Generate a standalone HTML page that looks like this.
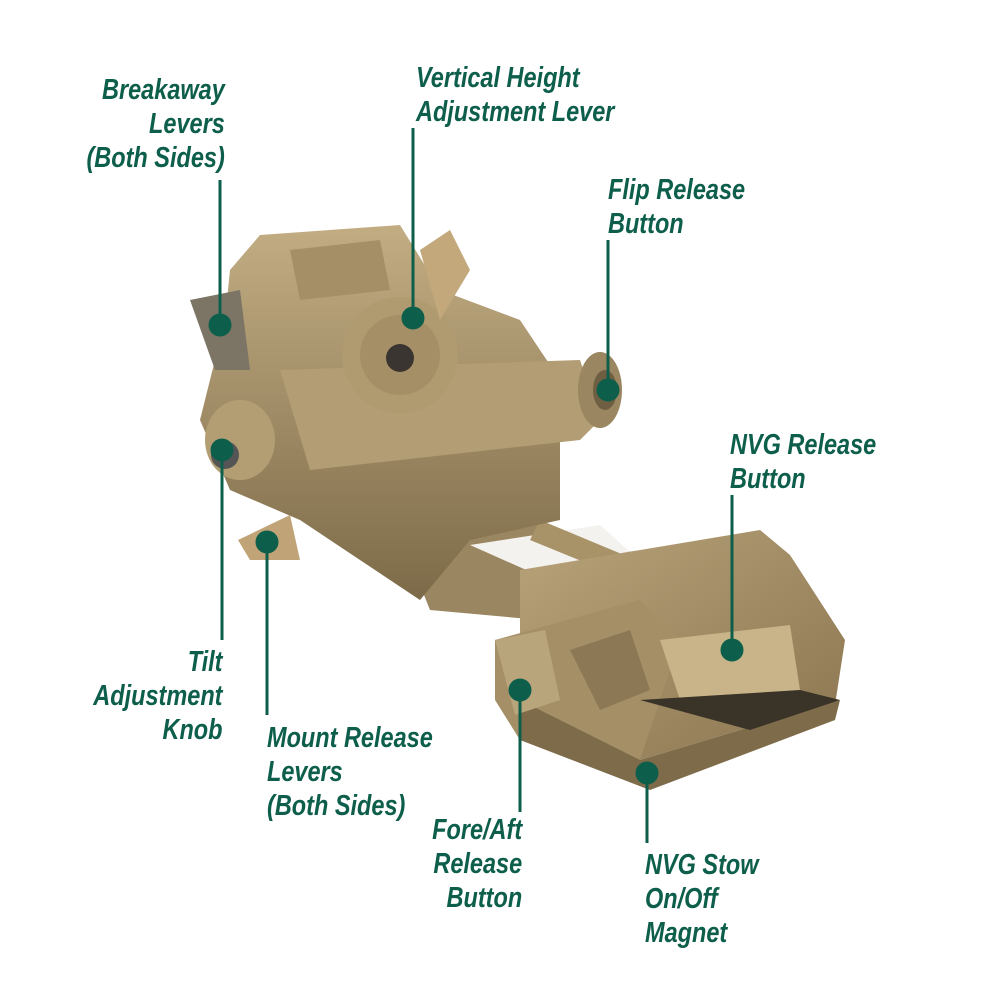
<!DOCTYPE html>
<html><head><meta charset="utf-8"><style>
html,body{margin:0;padding:0;background:#fff}
#c{position:relative;width:1000px;height:1000px;overflow:hidden}
.t{position:absolute;font-family:"Liberation Sans",sans-serif;font-weight:bold;font-style:italic;font-size:29px;line-height:34px;color:#0d5e4b;white-space:nowrap;transform:scaleX(0.81);transform-origin:left top}
.r{text-align:right;transform-origin:right top}
</style></head><body><div id="c">
<svg width="1000" height="1000" style="position:absolute;left:0;top:0">
<defs>
<linearGradient id="g1" x1="0" y1="0" x2="1" y2="1"><stop offset="0" stop-color="#b8a37a"/><stop offset="1" stop-color="#8a7550"/></linearGradient>
<linearGradient id="g2" x1="0" y1="0" x2="0" y2="1"><stop offset="0" stop-color="#c2ad83"/><stop offset="1" stop-color="#7d6a48"/></linearGradient>
</defs>
<polygon points="410,560 520,520 660,560 660,600 540,620 430,610" fill="#9a8660"/>
<polygon points="470,545 600,525 650,570 560,585" fill="#f4f2ee"/>
<polygon points="540,520 660,570 640,585 530,540" fill="#a89268"/>
<polygon points="520,570 760,530 790,555 845,640 835,705 740,730 640,760 520,700" fill="url(#g1)"/>
<polygon points="495,640 640,600 680,640 650,730 640,760 520,740 495,700" fill="#a48f67"/>
<polygon points="520,700 640,760 740,730 840,700 835,720 650,790 520,740" fill="#7e6b4a"/>
<polygon points="570,650 630,630 650,690 600,710" fill="#8c7855"/>
<polygon points="660,640 790,625 800,690 680,700" fill="#c8b488"/>
<polygon points="640,700 800,690 840,700 750,730" fill="#3a3328"/>
<polygon points="495,640 545,630 560,700 515,715" fill="#b9a57c"/>
<polygon points="230,270 260,235 400,225 440,290 520,320 560,380 560,520 470,540 420,600 360,560 300,520 230,490 200,420 225,320" fill="url(#g2)"/>
<polygon points="190,300 240,290 250,370 215,370" fill="#7c7566"/>
<polygon points="290,250 380,240 390,290 300,300" fill="#a48f67"/>
<polygon points="280,370 580,360 600,420 580,440 310,470" fill="#b29d74"/>
<ellipse cx="600" cy="390" rx="22" ry="38" fill="#9a8660"/>
<ellipse cx="605" cy="390" rx="12" ry="20" fill="#6f5f42"/>
<circle cx="400" cy="355" r="58" fill="#b09b71"/>
<circle cx="400" cy="355" r="40" fill="#a58f66"/>
<circle cx="400" cy="358" r="14" fill="#3a3530"/>
<polygon points="420,250 450,230 470,270 440,320" fill="#c2a87a"/>
<ellipse cx="240" cy="440" rx="35" ry="40" fill="#b39e74"/>
<circle cx="225" cy="455" r="14" fill="#555"/>
<polygon points="238,540 290,515 300,560 250,560" fill="#c0a478"/>
<g stroke="#0d5e4b" stroke-width="3" fill="#0d5e4b">
<line x1="220" y1="180" x2="220" y2="325"/><circle cx="220" cy="325" r="10"/>
<line x1="413" y1="128" x2="413" y2="318"/><circle cx="413" cy="318" r="10"/>
<line x1="608" y1="240" x2="608" y2="390"/><circle cx="608" cy="390" r="10"/>
<line x1="732" y1="495" x2="732" y2="650"/><circle cx="732" cy="650" r="10"/>
<line x1="222" y1="450" x2="222" y2="640"/><circle cx="222" cy="450" r="10"/>
<line x1="267" y1="542" x2="267" y2="715"/><circle cx="267" cy="542" r="10"/>
<line x1="520" y1="690" x2="520" y2="812"/><circle cx="520" cy="690" r="10"/>
<line x1="647" y1="773" x2="647" y2="843"/><circle cx="647" cy="773" r="10"/>
</g>
</svg>
<div class="t r" style="right:775px;top:73px">Breakaway<br>Levers<br>(Both Sides)</div>
<div class="t" style="left:416px;top:61px">Vertical Height<br>Adjustment Lever</div>
<div class="t" style="left:608px;top:173px">Flip Release<br>Button</div>
<div class="t" style="left:730px;top:428px">NVG Release<br>Button</div>
<div class="t r" style="right:778px;top:645px">Tilt<br>Adjustment<br>Knob</div>
<div class="t" style="left:267px;top:721px">Mount Release<br>Levers<br>(Both Sides)</div>
<div class="t r" style="right:478px;top:813px">Fore/Aft<br>Release<br>Button</div>
<div class="t" style="left:645px;top:848px">NVG Stow<br>On/Off<br>Magnet</div>
</div></body></html>
